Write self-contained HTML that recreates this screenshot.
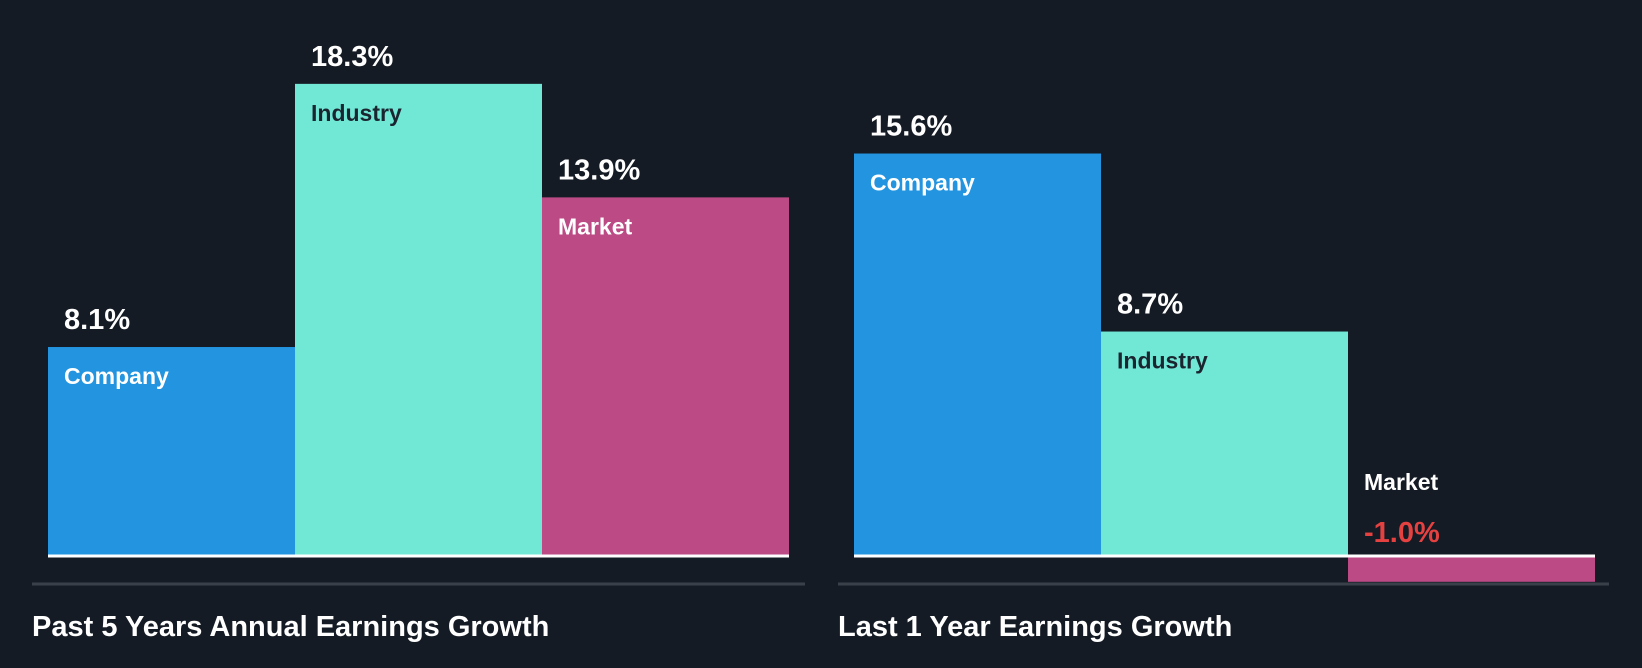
<!DOCTYPE html>
<html><head><meta charset="utf-8"><style>
html,body{margin:0;padding:0;background:#151b24;width:1642px;height:668px;overflow:hidden}
svg text{font-family:"Liberation Sans",sans-serif;font-weight:bold}
</style></head><body>
<svg id="chart" width="1642" height="668" xmlns="http://www.w3.org/2000/svg"></svg>
<script>
const categories = ["Company","Industry","Market"];
const past5Values = [8.1, 18.3, 13.9];
const last1Values = [15.6, 8.7, -1.0];
const panelTitles = ["Past 5 Years Annual Earnings Growth","Last 1 Year Earnings Growth"];
const colors = ["#2394df","#71e8d6","#bb4a85"];
const labelColors = ["#ffffff","#1b2530","#ffffff"];
const svg = document.getElementById('chart');
const NS = "http://www.w3.org/2000/svg";
const baseY = 556, pxPer = 25.8, barW = 247;
function yScale(v){ return baseY - v*pxPer; }
function mk(tag, attrs, text){
  const e = document.createElementNS(NS, tag);
  for (const k in attrs) e.setAttribute(k, attrs[k]);
  if (text !== undefined) e.textContent = text;
  svg.appendChild(e); return e;
}
function panel(values, x0, lineX0, lineX1, title, key){
  const axis = mk('line',{x1:lineX0,x2:lineX1,y1:584,y2:584,stroke:'#3a4049','stroke-width':3});
  
  
  values.forEach((v,i)=>{
    const x = x0 + i*barW;
    const top = Math.min(yScale(v), baseY), h = Math.abs(yScale(v)-baseY);
    const r = mk('rect',{x:x,y:top,width:barW,height:h,fill:colors[i]});
    
    
    const valTxt = (v<0?'':'') + v.toFixed(1) + '%';
    if (v >= 0){
      const t = mk('text',{x:x+16,y:top-18,fill:'#ffffff','font-size':29},valTxt);
      
      
      const c = mk('text',{x:x+16,y:top+37,fill:labelColors[i],'font-size':23},categories[i]);
      
      
    } else {
      const c = mk('text',{x:x+16,y:baseY-66,fill:'#ffffff','font-size':23},categories[i]);
      
      
      const t = mk('text',{x:x+16,y:baseY-14,fill:'#e64141','font-size':29},valTxt);
      
      
    }
  });
  const b = mk('line',{x1:x0,x2:x0+barW*3,y1:baseY,y2:baseY,stroke:'#ffffff','stroke-width':3});
  
  
  const tt = mk('text',{x:lineX0,y:636,fill:'#ffffff','font-size':29},title);
  
  
}
panel(past5Values, 48, 32, 805, panelTitles[0], 'past-5-years');
panel(last1Values, 854, 838, 1609, panelTitles[1], 'last-1-year');
</script>
</body></html>
